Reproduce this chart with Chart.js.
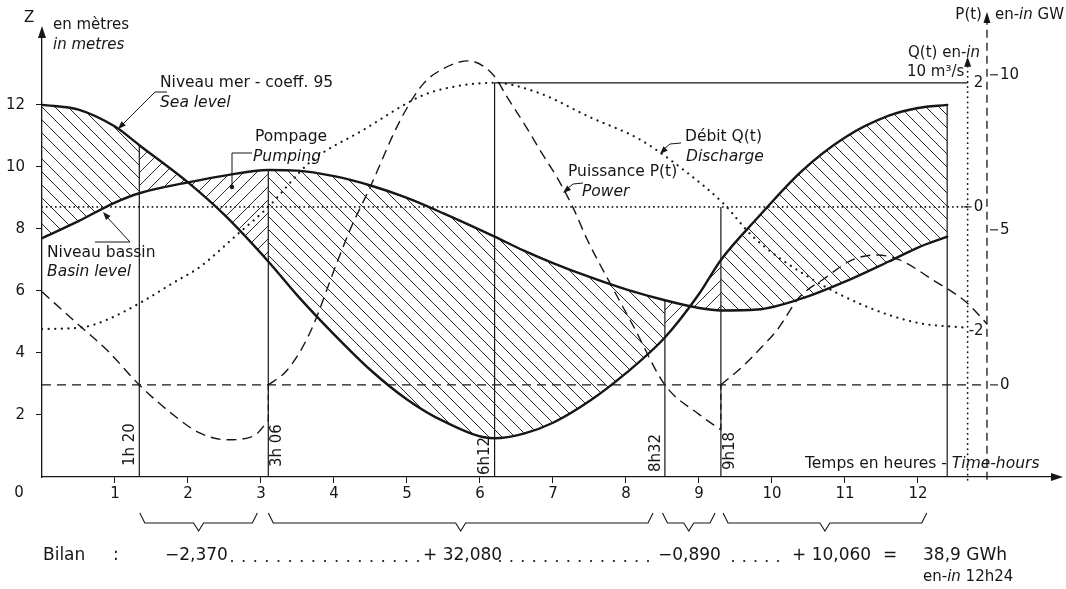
<!DOCTYPE html>
<html><head><meta charset="utf-8">
<script src="https://cdn.jsdelivr.net/npm/chart.js@4/dist/chart.umd.min.js"></script>
<style>html,body{margin:0;padding:0;background:#fff}#wrap{width:1066px;height:589px;position:relative}</style>
</head><body><div id="wrap"><canvas id="c" width="1066" height="589"></canvas></div>
<script>
// ---------------- DATA ----------------
// time in hours
const levelT   = [0,0.5,1,1.333,2,2.5,3.1,3.5,4,4.5,5,5.5,6.2,6.6,7,7.5,8,8.533,9,9.3,9.8,10.4,11,11.6,12,12.4];
// sea level Z (m)
const seaZ     = [12.0,11.85,11.3,10.7,9.5,8.45,6.95,5.85,4.6,3.45,2.5,1.8,1.25,1.4,1.75,2.45,3.35,4.5,5.9,7.0,8.35,9.85,10.95,11.65,11.9,12.0];
// basin level Z (m)
const basinZ   = [7.7,8.25,8.85,9.15,9.5,9.72,9.9,9.88,9.7,9.4,9.0,8.5,7.75,7.3,6.9,6.45,6.05,5.7,5.45,5.37,5.4,5.75,6.3,6.95,7.4,7.75];
// power P(t) in GW, three pieces
const powerT1  = [0,0.52,0.9,1.333,1.8,2.16,2.53,2.9,3.1];
const powerP1  = [3.0,1.9,1.1,0.0,-0.97,-1.55,-1.77,-1.65,-1.15];
const powerT2  = [3.1,3.36,3.67,4.04,4.22,4.49,4.9,5.22,5.5,5.84,6.18,6.37,6.64,6.82,7.05,7.27,7.47,7.8,8.1,8.533,9.0,9.3];
const powerP2  = [0,0.48,1.68,3.94,5.0,6.35,8.5,9.7,10.2,10.45,10.0,9.29,8.29,7.58,6.71,5.74,4.68,3.2,1.9,0,-0.95,-1.45];
const powerT3  = [9.3,9.6,9.85,10.07,10.38,10.7,11.1,11.44,11.75,12.2,12.67,12.95];
const powerP3  = [0,0.6,1.2,1.77,2.84,3.4,4.03,4.19,4.03,3.39,2.65,1.95];
// jumps of P at end of pumping
const jumpT    = [3.1, 9.3];
const jumpFrom = [-1.15, -1.45];
const jumpTo   = [0, 0];
// discharge Q(t) in 10 m3/s units
const flowT    = [0,0.56,0.89,1.37,1.79,2.16,2.67,3.1,3.67,4.4,5.22,5.7,6.2,6.8,7.5,8.2,8.84,9.33,9.74,10.5,11.3,12.0,12.68];
const flowQ    = [-1.97,-1.94,-1.82,-1.53,-1.23,-0.97,-0.45,0.0,0.72,1.24,1.8,1.95,2.0,1.84,1.45,1.08,0.55,0.06,-0.48,-1.13,-1.61,-1.87,-1.95];
// pumping intervals (hours)
const pumpStart = [1.333, 8.533];
const pumpEnd   = [3.1, 9.3];
// vertical marker lines
const markerT     = [1.333, 3.1, 6.2, 8.533, 9.3, 12.4];
const markerTopZ  = [10.7, 9.88, 12.71, 5.7, 8.71, 12.0];
const markerLabel = ['1h 20', '3h 06', '6h12', '8h32', '9h18', ''];
// tick labels
const xTicks = [1,2,3,4,5,6,7,8,9,10,11,12];
const zTicks = [2,4,6,8,10,12];
const qTicks = [-2,0,2];
const pTicks = [0,5,10];
// right axes positions (hours) and extents
const qAxisT = 12.68, pAxisT = 12.945;
const qAxisRange = [-4.4, 2.29];
const pAxisRange = [-3.06, 11.7];
// energy balance
const braceFrom = [1.34, 3.1, 8.5, 9.33];
const braceTo   = [2.95, 8.37, 9.22, 12.12];
const bilanText = ['\u22122,370', '+ 32,080', '\u22120,890', '+ 10,060'];

// ---------------- STYLE / LAYOUT ----------------
const INK = '#161616';
const FF = '"DejaVu Sans"';
const f = (s, it) => (it ? 'italic ' : '') + s + 'px ' + FF;
const pts = (ts, vs) => ts.map((t, i) => ({x: t, y: vs[i]}));

const canvas = document.getElementById('c');
const mainCtx = canvas.getContext('2d');
function hatch(back) {
  const n = 13, c = document.createElement('canvas');
  c.width = n; c.height = n;
  const g = c.getContext('2d');
  g.strokeStyle = '#2a2a2a'; g.lineWidth = 1;
  for (const o of [-n, 0, n]) {
    g.beginPath();
    if (back) { g.moveTo(o - 2, -2); g.lineTo(o + n + 2, n + 2); }
    else { g.moveTo(o - 2, n + 2); g.lineTo(o + n + 2, -2); }
    g.stroke();
  }
  return mainCtx.createPattern(c, 'repeat');
}
const hatchBack = hatch(true), hatchFwd = hatch(false);
const isPump = t => pumpStart.some((s, i) => t >= s - 1e-6 && t < pumpEnd[i] - 1e-6);

const base = {pointRadius: 0, borderColor: INK, fill: false, yAxisID: 'y'};
const datasets = [
  {...base, data: pts(levelT, seaZ), borderWidth: 2.4, cubicInterpolationMode: 'monotone', borderCapStyle: 'round'},
  {...base, data: pts(levelT, basinZ), borderWidth: 2.4, cubicInterpolationMode: 'monotone', borderCapStyle: 'round'},
  {...base, data: pts(levelT, seaZ), borderWidth: 0, borderColor: 'rgba(0,0,0,0)', cubicInterpolationMode: 'monotone',
    fill: 1, backgroundColor: hatchBack,
    segment: {backgroundColor: c => isPump(c.p0.parsed.x) ? hatchFwd : hatchBack}},
  {...base, yAxisID: 'yP', data: pts(powerT1, powerP1), borderWidth: 1.4, borderDash: [10, 6], cubicInterpolationMode: 'monotone'},
  {...base, yAxisID: 'yP', data: pts(powerT2, powerP2), borderWidth: 1.4, borderDash: [10, 6], cubicInterpolationMode: 'monotone'},
  {...base, yAxisID: 'yP', data: pts(powerT3, powerP3), borderWidth: 1.4, borderDash: [10, 6], cubicInterpolationMode: 'monotone', clip: false},
];
jumpT.forEach((t, i) => datasets.push({...base, yAxisID: 'yP', data: [{x: t, y: jumpFrom[i]}, {x: t, y: jumpTo[i]}], borderWidth: 1.3, borderDash: [6, 4]}));
datasets.push({...base, yAxisID: 'yQ', data: pts(flowT, flowQ), borderWidth: 2.2, borderDash: [0.1, 6.5], borderCapStyle: 'round', cubicInterpolationMode: 'monotone', clip: false});
// reference lines
datasets.push({...base, yAxisID: 'yQ', data: [{x: 0, y: 0}, {x: qAxisT, y: 0}], borderWidth: 1.8, borderDash: [0.1, 4.5], borderCapStyle: 'round', clip: false});
datasets.push({...base, yAxisID: 'yP', data: [{x: 0, y: 0}, {x: pAxisT, y: 0}], borderWidth: 1.3, borderDash: [9, 6], clip: false});
datasets.push({...base, yAxisID: 'yQ', data: [{x: markerT[2], y: 2}, {x: qAxisT, y: 2}], borderWidth: 1.3, clip: false});
// markers
markerT.forEach((t, i) => datasets.push({...base, data: [{x: t, y: 0}, {x: t, y: markerTopZ[i]}], borderWidth: 1.2}));
// right axes
datasets.push({...base, yAxisID: 'yQ', data: [{x: qAxisT, y: qAxisRange[0]}, {x: qAxisT, y: qAxisRange[1]}], borderWidth: 1.8, borderDash: [0.1, 5], borderCapStyle: 'round', clip: false});
datasets.push({...base, yAxisID: 'yP', data: [{x: pAxisT, y: pAxisRange[0]}, {x: pAxisT, y: pAxisRange[1]}], borderWidth: 1.3, borderDash: [8, 5], clip: false});

function tri(ctx, tx, ty, dir, len = 12, hw = 4) {
  ctx.beginPath();
  if (dir === 'r') { ctx.moveTo(tx, ty); ctx.lineTo(tx - len, ty - hw); ctx.lineTo(tx - len, ty + hw); }
  else { ctx.moveTo(tx, ty); ctx.lineTo(tx - hw, ty + len); ctx.lineTo(tx + hw, ty + len); }
  ctx.closePath(); ctx.fill();
}
function arrowTo(ctx, fx, fy, tx, ty, len = 8, hw = 3) {
  const a = Math.atan2(ty - fy, tx - fx);
  ctx.beginPath();
  ctx.moveTo(tx, ty);
  ctx.lineTo(tx - len * Math.cos(a) + hw * Math.sin(a), ty - len * Math.sin(a) - hw * Math.cos(a));
  ctx.lineTo(tx - len * Math.cos(a) - hw * Math.sin(a), ty - len * Math.sin(a) + hw * Math.cos(a));
  ctx.closePath(); ctx.fill();
}
function poly(ctx, p) { ctx.beginPath(); ctx.moveTo(p[0][0], p[0][1]); for (let i = 1; i < p.length; i++) ctx.lineTo(p[i][0], p[i][1]); ctx.stroke(); }
function runs(ctx, parts, x, y, size) {
  for (const [s, it] of parts) { ctx.font = f(size, it); ctx.fillText(s, x, y); x += ctx.measureText(s).width; }
}

const deco = {
  id: 'deco',
  afterDraw(chart) {
    const {ctx, chartArea: ca} = chart;
    const {x, y, yQ, yP} = chart.scales;
    const X = v => x.getPixelForValue(v), Y = v => y.getPixelForValue(v);
    ctx.save();
    ctx.fillStyle = INK; ctx.strokeStyle = INK; ctx.lineWidth = 1.1;
    ctx.textBaseline = 'middle'; ctx.textAlign = 'left';
    // axis arrows
    tri(ctx, ca.right + 5, Y(0), 'r');
    tri(ctx, X(0), ca.top - 6, 'u');
    const qx = X(qAxisT), px = X(pAxisT);
    tri(ctx, qx, yQ.getPixelForValue(qAxisRange[1]) - 8, 'u', 10, 3.5);
    tri(ctx, px, yP.getPixelForValue(pAxisRange[1]) - 10, 'u', 11, 3.5);
    // origin label and axis titles
    ctx.font = f(15); ctx.textAlign = 'center'; ctx.fillText('0', X(0) - 23, Y(0) + 16);
    ctx.textAlign = 'left';
    ctx.fillText('Z', 24, 18);
    ctx.fillText('en mètres', 53, 25);
    ctx.font = f(15, true); ctx.fillText('in metres', 53, 45);
    runs(ctx, [['Temps en heures - ', false], ['Time-hours', true]], 805, 464, 15.5);
    // right axes titles
    ctx.font = f(15); ctx.textAlign = 'right'; ctx.fillText('P(t)', px - 5, 15);
    ctx.textAlign = 'left';
    runs(ctx, [['en-', false], ['in', true], [' GW', false]], px + 8, 15, 15);
    runs(ctx, [['Q(t) en-', false], ['in', true]], 908, 53, 15);
    ctx.font = f(15); ctx.fillText('10 m\u00b3/s', 907, 72);
    // right axes ticks
    ctx.lineWidth = 1.1;
    qTicks.forEach(v => {
      const yy = yQ.getPixelForValue(v);
      ctx.font = f(15);
      ctx.fillText(v < 0 ? '-' + Math.abs(v) : String(v), v < 0 ? qx + 1 : qx + 6, yy);
      if (v === 0) poly(ctx, [[qx - 4, yy], [qx + 4, yy]]);
    });
    pTicks.forEach(v => {
      const yy = yP.getPixelForValue(v);
      poly(ctx, [[px + 3, yy], [px + 11, yy]]);
      ctx.font = f(15); ctx.fillText(String(v), px + 13, yy);
    });
    // marker labels (rotated)
    const side = [-1, 1, -1, -1, 1], bottom = [466, 467, 475, 472, 470];
    markerLabel.forEach((s, i) => {
      if (!s) return;
      ctx.save();
      ctx.translate(X(markerT[i]) + side[i] * 9, bottom[i]);
      ctx.rotate(-Math.PI / 2);
      ctx.font = f(15); ctx.textAlign = 'left'; ctx.fillText(s, 0, 0);
      ctx.restore();
    });
    // annotations
    ctx.font = f(15.5);
    ctx.fillText('Niveau mer - coeff. 95', 160, 83);
    ctx.fillText('Pompage', 255, 137);
    ctx.fillText('Niveau bassin', 47, 253);
    ctx.fillText('Puissance P(t)', 568, 172);
    ctx.fillText('Débit Q(t)', 685, 137);
    ctx.font = f(15.5, true);
    ctx.fillText('Sea level', 160, 103);
    ctx.fillText('Pumping', 253, 157);
    ctx.fillText('Basin level', 47, 272);
    ctx.fillText('Power', 582, 192);
    ctx.fillText('Discharge', 686, 157);
    // leaders
    ctx.lineWidth = 1;
    poly(ctx, [[167, 92], [155, 92], [122, 125]]); arrowTo(ctx, 125, 122, 118, 129);
    poly(ctx, [[252, 153], [232, 153], [232, 186]]);
    ctx.beginPath(); ctx.arc(232, 187, 2.2, 0, Math.PI * 2); ctx.fill();
    poly(ctx, [[95, 242], [130, 242], [107, 217]]); arrowTo(ctx, 110, 220, 103, 212);
    poly(ctx, [[583, 183], [573, 184], [567, 189]]); arrowTo(ctx, 570, 187, 563, 193);
    poly(ctx, [[681, 143], [670, 144], [664, 149]]); arrowTo(ctx, 667, 147, 660, 154);
    // braces
    ctx.lineWidth = 1.1;
    braceFrom.forEach((a, i) => {
      const x1 = X(a), x2 = X(braceTo[i]), xm = (x1 + x2) / 2;
      poly(ctx, [[x1, 513], [x1 + 5, 523], [xm - 5, 523], [xm, 531], [xm + 5, 523], [x2 - 5, 523], [x2, 513]]);
    });
    // bilan line
    const by = 556;
    ctx.font = f(17);
    ctx.fillText('Bilan', 43, by);
    ctx.fillText(':', 113, by);
    const bx = [165, 423, 658, 792];
    bilanText.forEach((s, i) => ctx.fillText(s, bx[i], by));
    const dots = (a, b, n) => { for (let k = 0; k < n; k++) { ctx.beginPath(); ctx.arc(a + (b - a) * k / (n - 1), by + 5, 1.1, 0, Math.PI * 2); ctx.fill(); } };
    dots(232, 418, 17); dots(500, 648, 14); dots(733, 778, 5);
    ctx.fillText('=', 883, by);
    ctx.fillText('38,9 GWh', 923, by);
    runs(ctx, [['en-', false], ['in', true], [' 12h24', false]], 923, 577, 15);
    ctx.restore();
  }
};

const tickFont = {family: 'DejaVu Sans', size: 15};
new Chart(canvas, {
  type: 'line',
  data: {datasets},
  plugins: [deco],
  options: {
    responsive: false, animation: false, events: [],
    layout: {padding: {left: 0, right: 8, top: 32, bottom: 82}},
    plugins: {legend: {display: false}, tooltip: {enabled: false}},
    scales: {
      x: {type: 'linear', min: 0, max: 13.918,
        afterFit: s => { s.height = 30; },
        afterBuildTicks: s => { s.ticks = xTicks.map(v => ({value: v})); },
        grid: {drawOnChartArea: false, drawTicks: true, tickLength: 6, color: INK, lineWidth: 1},
        border: {display: true, color: INK, width: 1.3},
        ticks: {color: INK, font: tickFont, padding: 2, maxRotation: 0, autoSkip: false}},
      y: {type: 'linear', position: 'left', min: 0, max: 14.35,
        afterFit: s => { s.width = 42; },
        afterBuildTicks: s => { s.ticks = zTicks.map(v => ({value: v})); },
        grid: {drawOnChartArea: false, drawTicks: true, tickLength: 6, color: INK, lineWidth: 1},
        border: {display: true, color: INK, width: 1.3},
        ticks: {color: INK, font: tickFont, padding: 11}},
      yQ: {type: 'linear', position: 'right', display: false, min: -4.355, max: 2.82},
      yP: {type: 'linear', position: 'right', display: false, min: -2.97, max: 11.38}
    }
  }
});
</script></body></html>
